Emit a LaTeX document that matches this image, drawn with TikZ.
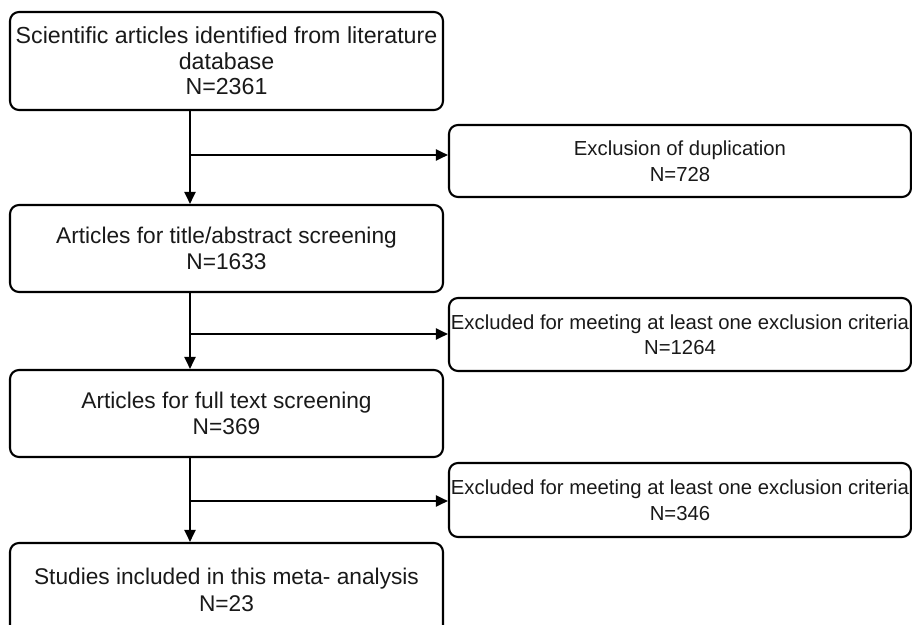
\documentclass[tikz,border=0pt]{standalone}
\usepackage{fontspec}
\setmainfont{Liberation Sans}
\usetikzlibrary{arrows.meta}
\tikzset{
  box/.style={draw=black, line width=2.1pt, rounded corners=9pt, align=center,
    font=\fontsize{22.7}{26.5}\selectfont, text=black!90, inner sep=0pt},
  rbox/.style={box, font=\fontsize{20.3}{25.5}\selectfont},
  arr/.style={draw=black, line width=2.1pt, -{Triangle[length=12pt,width=11pt]}}
}
\begin{document}
\begin{tikzpicture}[x=1pt,y=-1pt]
\useasboundingbox (0,0) rectangle (912,624);
\clip (0,0) rectangle (912,624);
\node[box, minimum width=433pt, minimum height=98pt, font=\fontsize{23.2}{25.5}\selectfont] (b1) at (226.5,61)
  {Scientific articles identified from literature\\database\\N=2361};
\node[rbox, minimum width=462pt, minimum height=72pt] (b2) at (680,161)
  {Exclusion of duplication\\N=728};
\node[box, minimum width=433pt, minimum height=87pt] (b3) at (226.5,248.5)
  {Articles for title/abstract screening\\N=1633};
\node[rbox, minimum width=462pt, minimum height=73pt] (b4) at (680,334.5)
  {Excluded for meeting at least one exclusion criteria\\N=1264};
\node[box, minimum width=433pt, minimum height=87pt] (b5) at (226.5,413.5)
  {Articles for full text screening\\N=369};
\node[rbox, minimum width=462pt, minimum height=74pt] (b6) at (680,500)
  {Excluded for meeting at least one exclusion criteria\\N=346};
\node[box, minimum width=433pt, minimum height=94pt] (b7) at (226.5,590)
  {Studies included in this meta- analysis\\N=23};
\coordinate (j1) at (190,155);
\coordinate (j2) at (190,334);
\coordinate (j3) at (190,501);
\draw[arr] (b1.south -| j1) -- (b3.north -| j1);
\draw[arr] (j1) -- (j1 -| b2.west);
\draw[arr] (b3.south -| j2) -- (b5.north -| j2);
\draw[arr] (j2) -- (j2 -| b4.west);
\draw[arr] (b5.south -| j3) -- (b7.north -| j3);
\draw[arr] (j3) -- (j3 -| b6.west);
\end{tikzpicture}
\end{document}
